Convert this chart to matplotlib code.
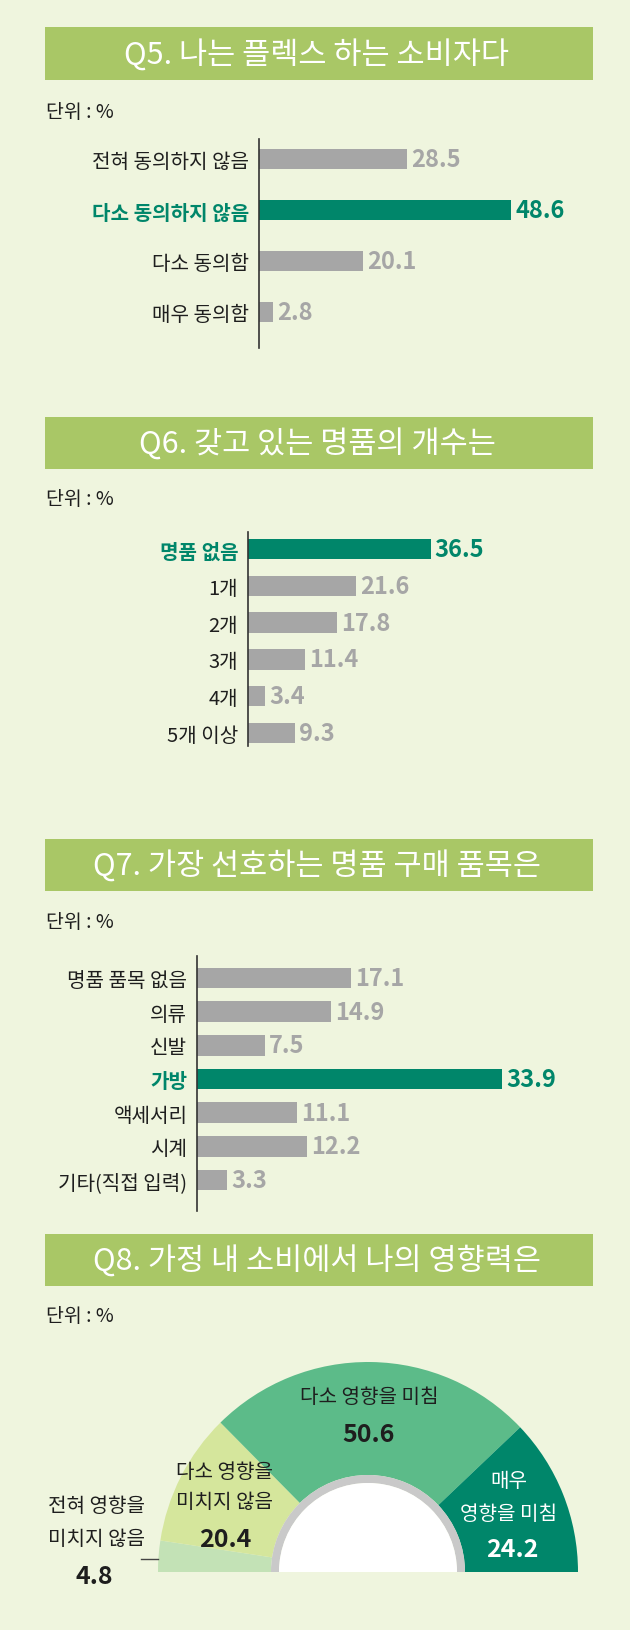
import matplotlib
matplotlib.use('Agg')
import matplotlib.pyplot as plt
from matplotlib.patches import Rectangle, Wedge

plt.rcParams['font.family'] = ['Noto Sans CJK KR', 'DejaVu Sans']

# 데이터
q5_title = 'Q5. 나는 플렉스 하는 소비자다'
q5_labels = ['전혀 동의하지 않음', '다소 동의하지 않음', '다소 동의함', '매우 동의함']
q5_values = [28.5, 48.6, 20.1, 2.8]
q5_hi = 1

q6_title = 'Q6. 갖고 있는 명품의 개수는'
q6_labels = ['명품 없음', '1개', '2개', '3개', '4개', '5개 이상']
q6_values = [36.5, 21.6, 17.8, 11.4, 3.4, 9.3]
q6_hi = 0

q7_title = 'Q7. 가장 선호하는 명품 구매 품목은'
q7_labels = ['명품 품목 없음', '의류', '신발', '가방', '액세서리', '시계', '기타(직접 입력)']
q7_values = [17.1, 14.9, 7.5, 33.9, 11.1, 12.2, 3.3]
q7_hi = 3

q8_title = 'Q8. 가정 내 소비에서 나의 영향력은'
q8_labels = ['전혀 영향을\n미치지 않음', '다소 영향을\n미치지 않음', '다소 영향을 미침', '매우\n영향을 미침']
q8_values = [4.8, 20.4, 50.6, 24.2]

unit_text = '단위 : %'

# 색상
BG = '#eff5de'
BAND = '#a9c766'
GRAY = '#a6a6a6'
GREEN = '#00866a'
TXT = '#1e1e1e'
q8_colors = ['#c3e2b6', '#d5e69c', '#5cbb89', '#00866a']

W, H = 630, 1631
fig = plt.figure(figsize=(W / 100, H / 100), dpi=100, facecolor=BG)


def rect(x0, y0, x1, y1):
    # 픽셀 좌표 -> figure 좌표
    return [x0 / W, 1 - y1 / H, (x1 - x0) / W, (y1 - y0) / H]


bg = fig.add_axes([0, 0, 1, 1], zorder=0)
bg.set_xlim(0, W)
bg.set_ylim(H, 0)
bg.axis('off')


def header(title, top, bottom, unit_y):
    bg.add_patch(Rectangle((45, top), 548, bottom - top, color=BAND, lw=0))
    bg.text(317, (top + bottom) / 2 + 1, title, color='white', fontsize=22,
            fontweight='medium', ha='center', va='center')
    bg.text(46, unit_y, unit_text, color=TXT, fontsize=14, ha='left', va='center')


def bar_chart(left, top, bottom, first, last, labels, values, hi, k):
    n = len(labels)
    step = (last - first) / (n - 1)
    ax = fig.add_axes(rect(left, top, W, bottom), zorder=2)
    ax.set_facecolor('none')
    colors = [GREEN if i == hi else GRAY for i in range(n)]
    ax.barh(range(n), values, height=20.5 / step, color=colors, lw=0)
    ax.set_xlim(0, (W - left) / k)
    ax.set_ylim(n - 1 + (bottom - last) / step, -(first - top) / step)
    for s in ['top', 'right', 'bottom']:
        ax.spines[s].set_visible(False)
    ax.spines['left'].set_color('#333333')
    ax.spines['left'].set_linewidth(1.2)
    ax.set_xticks([])
    ax.set_yticks(range(n))
    ax.set_yticklabels(labels, fontsize=14.5)
    ax.tick_params(axis='y', length=0, pad=7)
    for i, t in enumerate(ax.get_yticklabels()):
        if i == hi:
            t.set_color(GREEN)
            t.set_fontweight('bold')
        else:
            t.set_color(TXT)
    for i, v in enumerate(values):
        ax.annotate(f'{v}', (v, i), xytext=(3, 0), textcoords='offset points',
                    ha='left', va='center', fontsize=17, fontweight='bold',
                    color=GREEN if i == hi else GRAY)
    return ax


# Q5
header(q5_title, 28, 81, 112)
bar_chart(258.5, 140, 349, 160, 313, q5_labels, q5_values, q5_hi, 5.2)

# Q6
header(q6_title, 418, 470, 500)
bar_chart(248, 533, 747, 550, 734, q6_labels, q6_values, q6_hi, 5.0)

# Q7
header(q7_title, 840, 892, 923)
bar_chart(197, 957, 1212, 979, 1181, q7_labels, q7_values, q7_hi, 9.0)

# Q8 반원 도넛
header(q8_title, 1235, 1287, 1317)
R = 210
cx, cy = 368, 1573
pax = fig.add_axes(rect(cx - R, cy - R, cx + R, cy), zorder=2)
pax.pie(q8_values + [sum(q8_values)], colors=q8_colors + ['none'],
        startangle=180, counterclock=False, radius=1,
        wedgeprops=dict(width=1 - 97 / R, linewidth=0))
pax.add_patch(Wedge((0, 0), 97 / R, 0, 180, width=8 / R, color='#c9c9c9', lw=0))
pax.add_patch(Wedge((0, 0), 89 / R, 0, 180, color='white', lw=0))
pax.set_xlim(-1, 1)
pax.set_ylim(0, 1)
pax.set_aspect('auto')
pax.axis('off')

ov = fig.add_axes([0, 0, 1, 1], zorder=5)
ov.set_xlim(0, W)
ov.set_ylim(H, 0)
ov.axis('off')

q8_lab_pos = [(96, 1507, 33), (224, 1473, 30), (369, 1398, 0), (509, 1482, 33)]
q8_num_pos = [(94, 1577), (225, 1540), (369, 1435), (512, 1550)]
q8_txt_col = [TXT, TXT, TXT, 'white']
for lab, (x, y, gap), (nx, ny), c, v in zip(q8_labels, q8_lab_pos, q8_num_pos,
                                              q8_txt_col, q8_values):
    for j, line in enumerate(lab.split('\n')):
        ov.text(x, y + j * gap, line, color=c, fontsize=14.5, ha='center', va='center')
    ov.text(nx, ny, f'{v}', color=c, fontsize=18, fontweight='bold',
            ha='center', va='center')
ov.plot([141, 158], [1560, 1560], color='#444444', lw=1)

fig.savefig('out.png', dpi=100, facecolor=BG)
